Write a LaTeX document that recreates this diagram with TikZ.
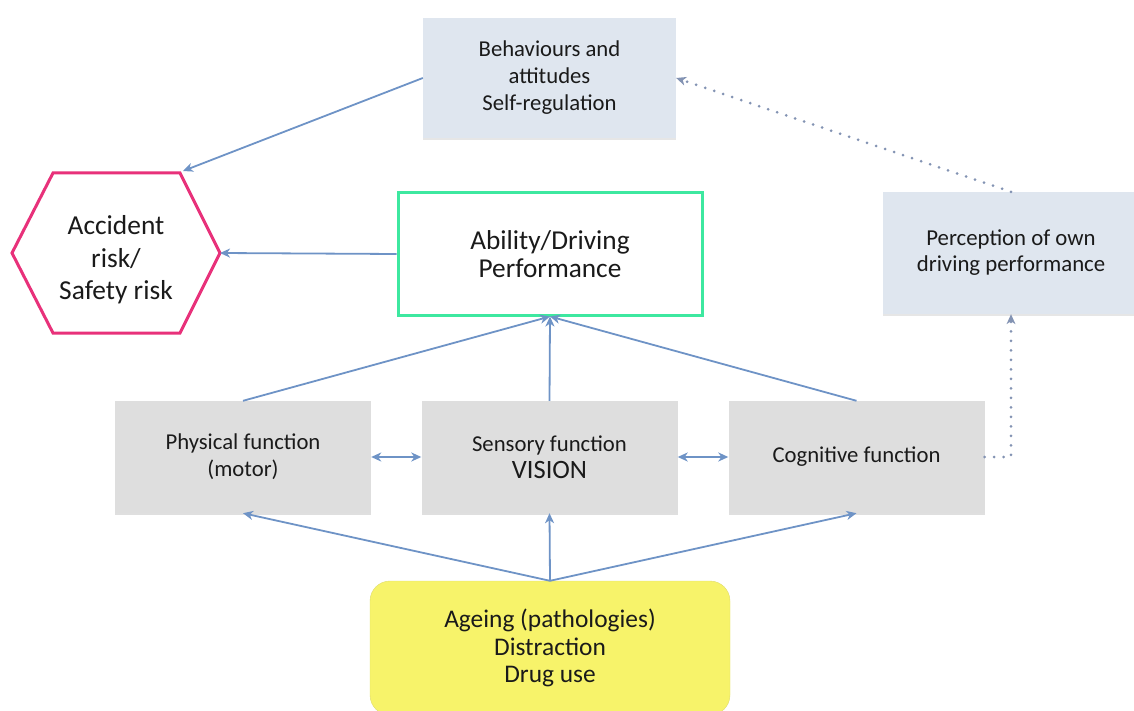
\documentclass[tikz,border=0pt]{standalone}
\usepackage{fontspec}
\setmainfont{Carlito}
\usetikzlibrary{arrows.meta,shadows}
\definecolor{arrowblue}{HTML}{6E93C6}
\definecolor{dotblue}{HTML}{8393B3}
\definecolor{boxgray}{HTML}{DEDEDE}
\definecolor{boxblue}{HTML}{DFE6EF}
\definecolor{mint}{HTML}{3DE8A0}
\definecolor{hexpink}{HTML}{E8317A}
\definecolor{ageyellow}{HTML}{F7F36A}
\definecolor{txt}{HTML}{1A1A1A}
\tikzset{
  graybox/.style={fill=boxgray, draw=none, minimum width=256pt, minimum height=112pt, align=center, text=txt,
    drop shadow={opacity=0.25, shadow xshift=0pt, shadow yshift=-2pt}},
  bluebox/.style={fill=boxblue, draw=none, minimum height=120pt, align=center, text=txt,
    drop shadow={opacity=0.2, shadow xshift=0pt, shadow yshift=-2pt}},
  conn/.style={draw=arrowblue, line width=1.8pt, -{Stealth[length=10pt,width=9pt,inset=3pt]}},
  dconn/.style={draw=arrowblue, line width=1.8pt, {Stealth[length=10pt,width=9pt,inset=3pt]}-{Stealth[length=10pt,width=9pt,inset=3pt]}},
  dotconn/.style={draw=dotblue, line width=3pt, line cap=round, dash pattern=on 0pt off 9.5pt, -{Stealth[length=10pt,width=9pt,inset=3pt,line width=0pt]}},
}
\begin{document}
\begin{tikzpicture}[x=1pt,y=-1pt]
\useasboundingbox (0,0) rectangle (1134,711);
% top box
\node[bluebox, minimum width=253pt, font=\fontsize{22.7}{27}\selectfont] (beh) at (549.5,78) {Behaviours and\\attitudes\\Self-regulation};
% hexagon
\coordinate (hL) at (12,253);
\coordinate (hTL) at (53,173);
\coordinate (hTR) at (180,173);
\coordinate (hR) at (220,253);
\coordinate (hBR) at (180,333);
\coordinate (hBL) at (53,333);
\draw[hexpink, line width=3pt, line join=miter, fill=white] (hL) -- (hTL) -- (hTR) -- (hR) -- (hBR) -- (hBL) -- cycle;
\node[align=center, text=txt, font=\fontsize{27.4}{32.5}\selectfont] (acc) at (116,260) {Accident\\risk/\\Safety risk};
\coordinate (hArr) at (183,171);
% ability
\node[draw=mint, line width=3pt, fill=white, minimum width=304pt, minimum height=122pt, align=center, text=txt, font=\fontsize{27.3}{28}\selectfont] (abl) at (550,254) {Ability/Driving\\Performance};
% perception
\node[bluebox, minimum width=256pt, minimum height=122pt, font=\fontsize{22.8}{26}\selectfont] (per) at (1011,253) {Perception of own\\driving performance};
% function boxes
\node[graybox, font=\fontsize{22.7}{27}\selectfont] (phy) at (243,457) {Physical function\\(motor)};
\node[graybox, font=\fontsize{22.7}{27}\selectfont] (sen) at (549.5,457) {Sensory function\\{\fontsize{26.5}{27}\selectfont VISION}};
\node[graybox, font=\fontsize{22.7}{27}\selectfont] (cog) at (856.5,457) {Cognitive function};
% ageing
\node[fill=ageyellow, draw=ageyellow!80!gray, line width=0.4pt, rounded corners=20pt, minimum width=360pt, minimum height=134pt, align=center, text=txt, font=\fontsize{25.4}{27.5}\selectfont] (age) at (550,648) {Ageing (pathologies)\\Distraction\\Drug use};
% connectors
\draw[conn] (beh.west) -- (hArr);
\draw[conn] (abl.west) -- (hR);
\draw[conn] (phy.north) -- (abl.south);
\draw[conn] (sen.north) -- (abl.south);
\draw[conn] (cog.north) -- (abl.south);
\draw[dconn] (phy.east) -- (sen.west);
\draw[dconn] (sen.east) -- (cog.west);
\draw[conn] (age.north) -- (phy.south);
\draw[conn] (age.north) -- (sen.south);
\draw[conn] (age.north) -- (cog.south);
\coordinate (corner) at (per.south |- cog.east);
\draw[dotconn] (cog.east) -- (corner) -- (per.south);
\draw[dotconn] (per.north) -- (beh.east);
\end{tikzpicture}
\end{document}
